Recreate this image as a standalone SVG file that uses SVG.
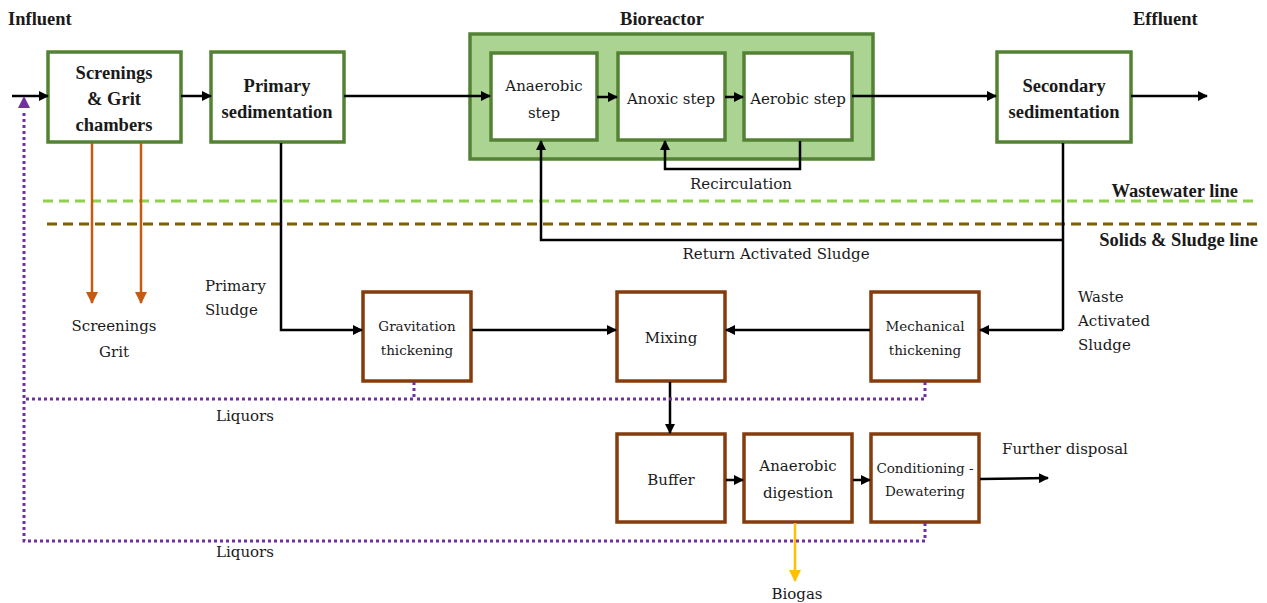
<svg xmlns="http://www.w3.org/2000/svg" width="1267" height="603" viewBox="0 0 1267 603">
<defs>
<marker id="ab" markerWidth="10" markerHeight="10" refX="9" refY="5" orient="auto" markerUnits="userSpaceOnUse"><path d="M0,0 L10,5 L0,10 z" fill="#000"/></marker>
<marker id="ao" markerWidth="12" markerHeight="12" refX="11" refY="6" orient="auto" markerUnits="userSpaceOnUse"><path d="M0,0 L12,6 L0,12 z" fill="#c55a11"/></marker>
<marker id="ay" markerWidth="12" markerHeight="12" refX="11" refY="6" orient="auto" markerUnits="userSpaceOnUse"><path d="M0,0 L12,6 L0,12 z" fill="#ffc000"/></marker>
</defs>
<style>
text{fill:#1a1a1a;}
.t{font-family:'DejaVu Serif','Liberation Serif',serif;font-size:15px;}
.b{font-family:'Liberation Serif','DejaVu Serif',serif;font-size:18.5px;font-weight:bold;}
.s{font-family:'DejaVu Serif','Liberation Serif',serif;font-size:13.5px;}
.c{text-anchor:middle;}
.g{fill:#fff;stroke:#548235;stroke-width:3.5;}
.br{fill:#fff;stroke:#843c0c;stroke-width:3.5;}
.k{fill:none;stroke:#000;stroke-width:2.5;}
.kl{fill:none;stroke:#000;stroke-width:2.5;marker-end:url(#ab);}
.o{fill:none;stroke:#c55a11;stroke-width:2.5;marker-end:url(#ao);}
.p{fill:none;stroke:#7030a0;stroke-width:3;stroke-dasharray:3 3;}
</style>
<rect width="1267" height="603" fill="#fff"/>

<text class="b" x="8" y="25">Influent</text>
<text class="b c" x="662" y="25">Bioreactor</text>
<text class="b" x="1133" y="25">Effluent</text>

<line x1="43" y1="201" x2="1257" y2="201" stroke="#92d050" stroke-width="3" stroke-dasharray="10 6"/>
<line x1="47" y1="224" x2="1260" y2="224" stroke="#7f6000" stroke-width="3" stroke-dasharray="10 6"/>
<text class="b" x="1238" y="197" text-anchor="end">Wastewater line</text>
<text class="b" x="1258" y="246" text-anchor="end">Solids &amp; Sludge line</text>

<g id="screenings">
<rect class="g" x="48" y="52" width="133" height="90"/>
<text class="b c" x="114" y="79">Screnings</text>
<text class="b c" x="114" y="105">&amp; Grit</text>
<text class="b c" x="114" y="131">chambers</text>
</g>
<g id="primary">
<rect class="g" x="211" y="52" width="133" height="90"/>
<text class="b c" x="277" y="92">Primary</text>
<text class="b c" x="277" y="118">sedimentation</text>
</g>
<g id="bioreactor">
<rect x="470" y="34" width="403" height="125" fill="#abd391" stroke="#548235" stroke-width="3.5"/>
</g>
<g id="anaerobic">
<rect class="g" x="491" y="53" width="106" height="87"/>
<text class="t c" x="544" y="91">Anaerobic</text>
<text class="t c" x="544" y="118">step</text>
</g>
<g id="anoxic">
<rect class="g" x="618" y="53" width="107" height="87"/>
<text class="t c" x="671" y="104">Anoxic step</text>
</g>
<g id="aerobic">
<rect class="g" x="744" y="53" width="108" height="87"/>
<text class="t c" x="798" y="104">Aerobic step</text>
</g>
<g id="secondary">
<rect class="g" x="997" y="52" width="134" height="90"/>
<text class="b c" x="1064" y="92">Secondary</text>
<text class="b c" x="1064" y="118">sedimentation</text>
</g>
<g id="gravitation">
<rect class="br" x="363" y="292" width="108" height="89"/>
<text class="s c" x="417" y="331">Gravitation</text>
<text class="s c" x="417" y="355">thickening</text>
</g>
<g id="mixing">
<rect class="br" x="617" y="292" width="108" height="89"/>
<text class="t c" x="671" y="343">Mixing</text>
</g>
<g id="mechanical">
<rect class="br" x="871" y="292" width="108" height="89"/>
<text class="s c" x="925" y="331">Mechanical</text>
<text class="s c" x="925" y="355">thickening</text>
</g>
<g id="buffer">
<rect class="br" x="617" y="434" width="108" height="88"/>
<text class="t c" x="671" y="485">Buffer</text>
</g>
<g id="digestion">
<rect class="br" x="744" y="434" width="108" height="88"/>
<text class="t c" x="798" y="471">Anaerobic</text>
<text class="t c" x="798" y="498">digestion</text>
</g>
<g id="conditioning">
<rect class="br" x="871" y="434" width="108" height="88"/>
<text class="s c" x="925" y="473">Conditioning -</text>
<text class="s c" x="925" y="496">Dewatering</text>
</g>

<g id="connectors">
<line class="kl" x1="12" y1="96" x2="48" y2="96"/>
<line class="kl" x1="181" y1="96" x2="211" y2="96"/>
<line class="kl" x1="344" y1="96" x2="490" y2="96"/>
<line class="kl" x1="597" y1="97" x2="617" y2="97"/>
<line class="kl" x1="725" y1="97" x2="743" y2="97"/>
<line class="kl" x1="852" y1="96" x2="996" y2="96"/>
<line class="kl" x1="1131" y1="96" x2="1207" y2="96"/>
<polyline class="kl" points="800,141 800,169 665,169 665,141"/>
<line class="k" x1="1063" y1="143" x2="1063" y2="330"/>
<polyline class="kl" points="1063,240 541,240 541,141"/>
<polyline class="kl" points="1063,330 980,330"/>
<line class="o" x1="92" y1="143" x2="92" y2="303"/>
<line class="o" x1="141" y1="143" x2="141" y2="303"/>
<polyline class="kl" points="281,143 281,330 362,330"/>
<line class="kl" x1="472" y1="330" x2="616" y2="330"/>
<line class="kl" x1="870" y1="330" x2="726" y2="330"/>
<line class="kl" x1="670" y1="382" x2="670" y2="433"/>
<line class="kl" x1="726" y1="480" x2="743" y2="480"/>
<line class="kl" x1="853" y1="480" x2="870" y2="480"/>
<line class="kl" x1="980" y1="479" x2="1048" y2="478"/>
<line x1="795" y1="523" x2="795" y2="581" stroke="#ffc000" stroke-width="2.5" marker-end="url(#ay)"/>
<polyline class="p" points="414,382 414,399 24,399"/>
<polyline class="p" points="925,382 925,399 414,399"/>
<polyline class="p" points="925,523 925,541 24,541 24,110"/>
<path d="M18,108 L24,96 L30,108 z" fill="#7030a0"/>
</g>

<text class="t c" x="741" y="189">Recirculation</text>
<text class="t c" x="776" y="259">Return Activated Sludge</text>
<text class="t c" x="114" y="331">Screenings</text>
<text class="t c" x="114" y="357">Grit</text>
<text class="t" x="205" y="291">Primary</text>
<text class="t" x="205" y="315">Sludge</text>
<text class="t" x="1078" y="302">Waste</text>
<text class="t" x="1078" y="326">Activated</text>
<text class="t" x="1078" y="350">Sludge</text>
<text class="t c" x="245" y="421">Liquors</text>
<text class="t c" x="245" y="557">Liquors</text>
<text class="t" x="1002" y="454">Further disposal</text>
<text class="t c" x="797" y="599">Biogas</text>
</svg>
